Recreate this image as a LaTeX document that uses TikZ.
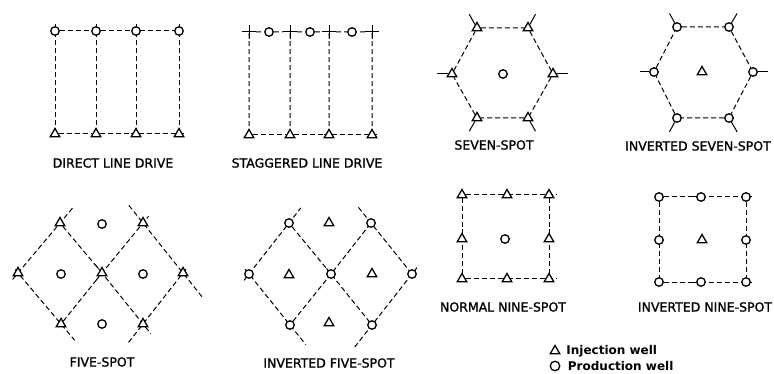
\documentclass[tikz,border=0pt]{standalone}
\usepackage{fontspec}
\setmainfont{DejaVu Sans}
\newfontfamily\letterfont[FakeBold=1.2]{DejaVu Sans}
\usetikzlibrary{shapes.geometric,shapes.misc,backgrounds,positioning,calc}
\tikzset{
  inj well/.style={regular polygon, regular polygon sides=3, draw, fill=white, line width=1.3pt, minimum size=11pt, inner sep=0pt},
  prod well/.style={circle, draw, fill=white, line width=1.3pt, minimum size=8.5pt, inner sep=0pt},
  grid cross/.style={cross out, draw, rotate=45, line width=1pt, minimum size=9pt, inner sep=0pt},
  pattern line/.style={draw, line width=1pt, dash pattern=on 5pt off 3pt},
  spoke/.style={draw, line width=1pt},
  pattern label/.style={font=\letterfont\fontsize{12.5}{14}\selectfont},
  key label/.style={font=\bfseries\fontsize{12}{14}\selectfont},
}

\begin{document}
\begin{tikzpicture}[x=1pt, y=-1pt]
  \useasboundingbox (0,0) rectangle (774,374);

  % Direct line drive
  \foreach \x [count=\i] in {55,96,136,179} {
    \node[prod well] (dp\i) at (\x,31) {};
    \node[inj well] (di\i) at (\x,134) {};
  }
  \node[pattern label] (dlabel) at (113,163) {DIRECT LINE DRIVE};
  \begin{scope}[on background layer]
    \foreach \i in {1,...,4}
      \draw[pattern line, shorten <=-12pt, shorten >=-9pt] (dp\i) -- (di\i);
    \draw[pattern line, shorten <=-9pt, shorten >=-9pt] (dp1) -- (dp2) -- (dp3) -- (dp4);
    \draw[pattern line, shorten <=-9pt, shorten >=-9pt] (di1) -- (di2) -- (di3) -- (di4);
  \end{scope}

  % Staggered line drive
  \foreach \x [count=\i] in {249,290,329,372} {
    \node[grid cross] (sj\i) at (\x,32) {};
    \node[inj well] (si\i) at (\x,135) {};
  }
  \foreach \x [count=\i] in {269,310,352}
    \node[prod well] (sp\i) at (\x,32) {};
  \node[pattern label] (slabel) at (307,163) {STAGGERED LINE DRIVE};
  \begin{scope}[on background layer]
    \foreach \i in {1,...,4}
      \draw[pattern line, shorten <=-6pt, shorten >=-9pt] (sj\i) -- (si\i);
    \draw[pattern line, shorten <=-5pt, shorten >=-1pt] (sj1) -- (sp1) -- (sj2) -- (sp2) -- (sj3) -- (sp3) -- (sj4);
    \draw[pattern line, shorten <=-9pt, shorten >=-9pt] (si1) -- (si2) -- (si3) -- (si4);
  \end{scope}

  % Seven-spot
  \foreach \x/\y [count=\i] in {477/28,528/28,553/74,528/118,477/118,452/74}
    \node[inj well] (sv\i) at (\x,\y) {};
  \node[prod well] (svc) at (503,74) {};
  \node[pattern label] (svlabel) at (494,145) {SEVEN-SPOT};
  \begin{scope}[on background layer]
    \draw[pattern line] (sv1) -- (sv2) -- (sv3) -- (sv4) -- (sv5) -- (sv6) -- (sv1);
    \foreach \i in {1,...,6}
      \draw[spoke] (sv\i) -- ($(svc)!1.3!(sv\i)$);
  \end{scope}

  % Inverted seven-spot
  \foreach \x/\y [count=\i] in {677/27,729/27,753/72,729/118,677/118,654/72}
    \node[prod well] (iv\i) at (\x,\y) {};
  \node[inj well] (ivc) at (702,72) {};
  \node[pattern label] (ivlabel) at (698,146) {INVERTED SEVEN-SPOT};
  \begin{scope}[on background layer]
    \draw[pattern line] (iv1) -- (iv2) -- (iv3) -- (iv4) -- (iv5) -- (iv6) -- (iv1);
    \foreach \i in {1,...,6}
      \draw[spoke] (iv\i) -- ($(ivc)!1.3!(iv\i)$);
  \end{scope}

  % Five-spot
  \foreach \x/\y [count=\i] in {60/223,143/223,18/273,102/273,183/273,61/324,143/324}
    \node[inj well] (ft\i) at (\x,\y) {};
  \foreach \x/\y [count=\i] in {102/224,61/274,143/274,102/324}
    \node[prod well] (fp\i) at (\x,\y) {};
  \node[pattern label] (flabel) at (102,362) {FIVE-SPOT};
  \begin{scope}[on background layer]
    \draw[pattern line, shorten <=-9pt, shorten >=-25pt] (ft3) -- (ft6);
    \draw[pattern line, shorten <=-15pt, shorten >=-16pt] (ft1) -- (ft4) -- (ft7);
    \draw[pattern line, shorten <=-27pt, shorten >=-35pt] (ft2) -- (ft5);
    \draw[pattern line, shorten <=-12pt, shorten >=-24pt] (ft3) -- (ft1);
    \draw[pattern line, shorten <=-13pt, shorten >=-13pt] (ft6) -- (ft4) -- (ft2);
    \draw[pattern line, shorten <=-27pt, shorten >=-11pt] (ft7) -- (ft5);
  \end{scope}

  % Inverted five-spot
  \foreach \x/\y [count=\i] in {289/223,371/223,249/274,331/274,412/274,290/325,372/325}
    \node[prod well] (ip\i) at (\x,\y) {};
  \foreach \x/\y [count=\i] in {329/223,289/275,372/274,329/323}
    \node[inj well] (it\i) at (\x,\y) {};
  \node[pattern label] (iflabel) at (329,363) {INVERTED FIVE-SPOT};
  \begin{scope}[on background layer]
    \draw[pattern line, shorten <=-11pt, shorten >=-30pt] (ip3) -- (ip6);
    \draw[pattern line, shorten <=-12pt, shorten >=-10pt] (ip1) -- (ip4) -- (ip7);
    \draw[pattern line, shorten <=-25pt, shorten >=-9pt] (ip2) -- (ip5);
    \draw[pattern line, shorten <=-13pt, shorten >=-24pt] (ip3) -- (ip1);
    \draw[pattern line, shorten <=-10pt, shorten >=-9pt] (ip6) -- (ip4) -- (ip2);
    \draw[pattern line, shorten <=-33pt, shorten >=-16pt] (ip7) -- (ip5);
  \end{scope}

  % Normal nine-spot
  \foreach \x/\y [count=\i] in {462/195,507/195,549/195,462/239,549/239,462/279,507/279,549/279}
    \node[inj well] (nn\i) at (\x,\y) {};
  \node[prod well] (nnc) at (505,239) {};
  \node[pattern label] (nnlabel) at (503,307) {NORMAL NINE-SPOT};
  \begin{scope}[on background layer]
    \draw[pattern line, shorten <=-11pt, shorten >=-12pt] (nn1) -- (nn2) -- (nn3);
    \draw[pattern line, shorten <=-11pt, shorten >=-12pt] (nn6) -- (nn7) -- (nn8);
    \draw[pattern line, shorten <=-13pt, shorten >=-12pt] (nn1) -- (nn4) -- (nn6);
    \draw[pattern line, shorten <=-13pt, shorten >=-12pt] (nn3) -- (nn5) -- (nn8);
  \end{scope}

  % Inverted nine-spot
  \foreach \x/\y [count=\i] in {659/197,701/197,746/197,659/240,746/240,659/282,701/282,746/282}
    \node[prod well] (in\i) at (\x,\y) {};
  \node[inj well] (inc) at (702,240) {};
  \node[pattern label] (inlabel) at (705,307) {INVERTED NINE-SPOT};
  \begin{scope}[on background layer]
    \draw[pattern line, shorten <=-13pt, shorten >=-11pt] (in1) -- (in2) -- (in3);
    \draw[pattern line, shorten <=-13pt, shorten >=-11pt] (in6) -- (in7) -- (in8);
    \draw[pattern line, shorten <=-10pt, shorten >=-8pt] (in1) -- (in4) -- (in6);
    \draw[pattern line, shorten <=-10pt, shorten >=-8pt] (in3) -- (in5) -- (in8);
  \end{scope}

  % Key
  \node[inj well] (keyi) at (555,351) {};
  \node[prod well, minimum size=9.5pt] (keyp) at (555,366) {};
  \node[key label, right=4pt of keyi] (keyitext) {Injection well};
  \node[key label, right=4pt of keyp] (keyptext) {Production well};
\end{tikzpicture}
\end{document}
